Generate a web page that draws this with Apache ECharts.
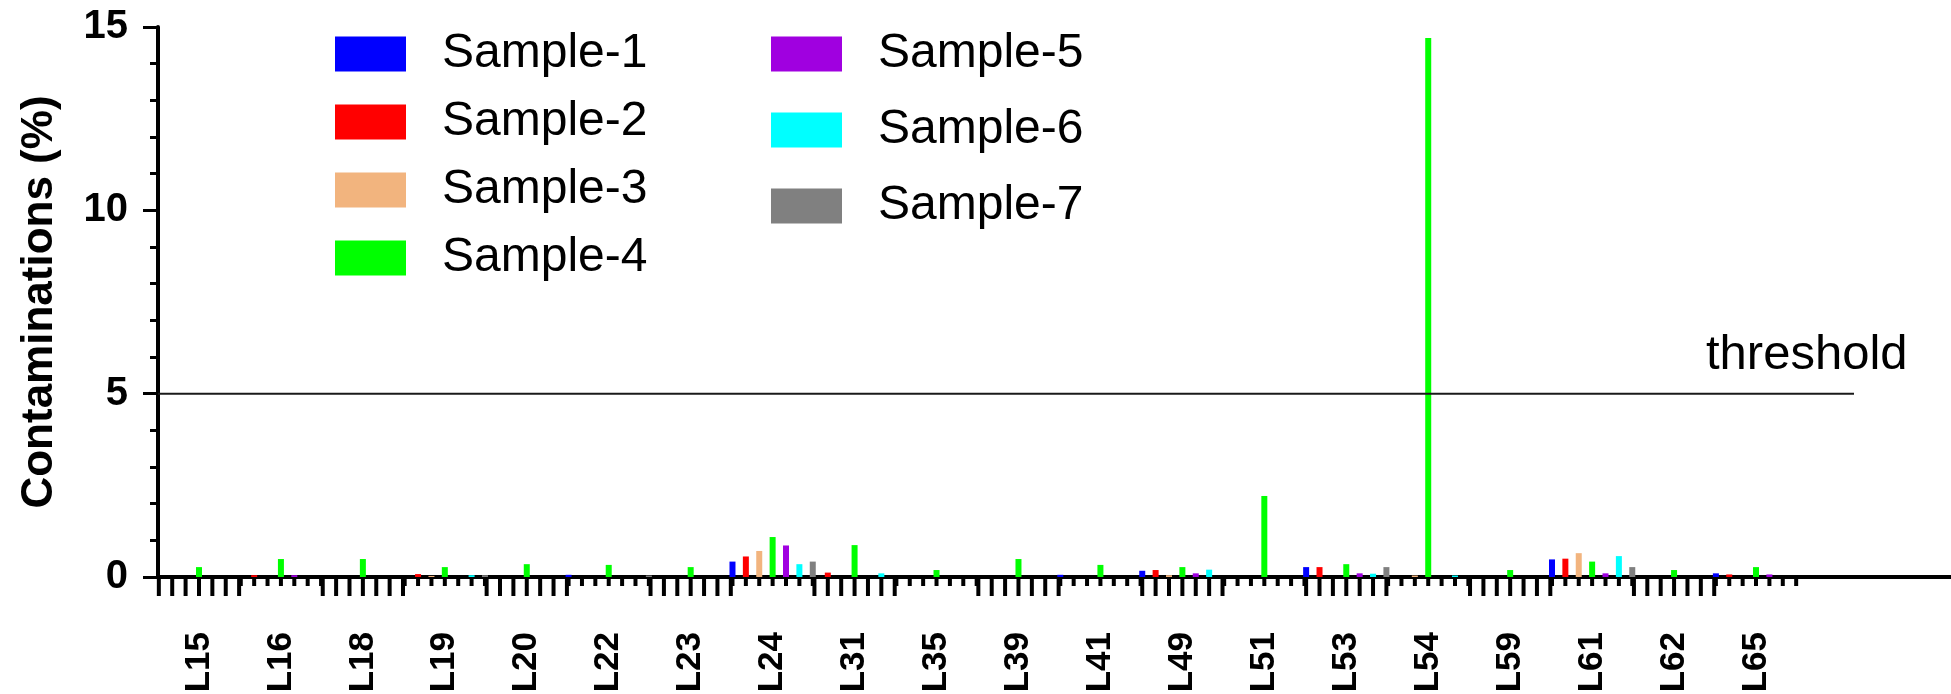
<!DOCTYPE html>
<html>
<head>
<meta charset="utf-8">
<title>Contaminations per locus</title>
<script src="https://cdn.jsdelivr.net/npm/echarts@6/dist/echarts.min.js"></script>
<style>
  html, body { margin: 0; padding: 0; background: #ffffff; }
  #chart { width: 1951px; height: 694px; }
</style>
</head>
<body>
<div id="chart"></div>
<script>
// Loci on the x axis
const categories = ['L15', 'L16', 'L18', 'L19', 'L20', 'L22', 'L23', 'L24', 'L31', 'L35',
                    'L39', 'L41', 'L49', 'L51', 'L53', 'L54', 'L59', 'L61', 'L62', 'L65'];

const sampleNames = ['Sample-1', 'Sample-2', 'Sample-3', 'Sample-4', 'Sample-5', 'Sample-6', 'Sample-7'];

// Contamination (%) per locus, one array per sample
const sample1 = [0, 0, 0, 0, 0, 0.06, 0, 0.42, 0, 0, 0, 0.06, 0.17, 0, 0.27, 0, 0, 0.48, 0, 0.10];
const sample2 = [0, 0.05, 0, 0.08, 0, 0, 0, 0.56, 0.12, 0, 0, 0, 0.19, 0, 0.27, 0, 0, 0.50, 0, 0.07];
const sample3 = [0, 0, 0, 0.03, 0, 0, 0, 0.71, 0, 0, 0, 0, 0.05, 0, 0, 0.04, 0, 0.65, 0, 0];
const sample4 = [0.27, 0.49, 0.49, 0.27, 0.35, 0.33, 0.27, 1.09, 0.87, 0.19,
                 0.49, 0.33, 0.27, 2.21, 0.35, 14.70, 0.19, 0.42, 0.19, 0.27];
const sample5 = [0, 0.05, 0, 0, 0, 0, 0, 0.86, 0, 0, 0, 0, 0.10, 0, 0.10, 0, 0, 0.10, 0, 0.07];
const sample6 = [0, 0, 0, 0.05, 0, 0, 0, 0.35, 0.10, 0, 0, 0, 0.20, 0, 0.09, 0.04, 0, 0.57, 0, 0];
const sample7 = [0, 0, 0, 0.05, 0, 0.04, 0, 0.42, 0, 0, 0, 0, 0, 0, 0.27, 0, 0, 0.27, 0, 0];

const sampleValues = [sample1, sample2, sample3, sample4, sample5, sample6, sample7];
const sampleColors = ['#0000ff', '#ff0000', '#f2b47e', '#00ff00', '#a000e0', '#00ffff', '#808080'];

// y axis tick labels and the threshold level
const yTickLabels = [0, 5, 10, 15];
const thresholdValue = 5;

const FONT = '"Liberation Sans", Arial, Helvetica, sans-serif';
const BAR_W = 6;
const BAR_GAP = 1.23;                     // gap between neighbouring bars, as a share of bar width
const SLOT = BAR_W * (1 + BAR_GAP);       // distance between neighbouring bar centres

const yMin = yTickLabels[0];
const yMax = yTickLabels[yTickLabels.length - 1];
const yStep = yTickLabels[1] - yTickLabels[0];

const barSeries = sampleNames.map(function (name, k) {
  return {
    name: name,
    type: 'bar',
    xAxisIndex: 0,
    yAxisIndex: 0,
    barWidth: BAR_W,
    barGap: (BAR_GAP * 100) + '%',
    itemStyle: { color: sampleColors[k] },
    data: sampleValues[k],
    z: 3
  };
});

// One tick under every bar; loci alternate between long and short ticks
const tickSeries = {
  type: 'custom',
  xAxisIndex: 0,
  yAxisIndex: 0,
  clip: false,
  silent: true,
  z: 2,
  data: categories.map(function (c, i) { return [i, 0]; }),
  renderItem: function (params, api) {
    const idx = api.value(0);
    const base = api.coord([idx, 0]);
    const len = idx % 2 === 0 ? 19 : 9;
    const n = sampleNames.length;
    const children = [];
    for (let k = 0; k < n; k++) {
      const x = base[0] + (k - (n - 1) / 2) * SLOT;
      children.push({
        type: 'line',
        shape: { x1: x, y1: base[1], x2: x, y2: base[1] + len },
        style: { stroke: '#000000', lineWidth: 4 }
      });
    }
    return { type: 'group', children: children };
  }
};

const thresholdSeries = {
  type: 'line',
  xAxisIndex: 2,
  yAxisIndex: 2,
  symbol: 'none',
  silent: true,
  lineStyle: { color: '#1a1a1a', width: 2 },
  data: [[0, thresholdValue], [1, thresholdValue]],
  z: 4
};

const hiddenY = { type: 'value', min: yMin, max: yMax, show: false };

const legendCommon = {
  orient: 'vertical',
  top: 30,
  itemWidth: 71,
  itemHeight: 35,
  icon: 'rect',
  selectedMode: false,
  padding: 0,
  textStyle: { fontSize: 48, lineHeight: 35, color: '#000000', fontFamily: FONT, padding: [0, 0, 0, 31] }
};

const option = {
  backgroundColor: '#ffffff',
  animation: false,
  textStyle: { fontFamily: FONT },
  title: {
    text: 'threshold',
    left: 1706,
    top: 331,
    padding: 0,
    textStyle: { fontSize: 49, fontWeight: 'normal', color: '#000000', fontFamily: FONT }
  },
  legend: [
    Object.assign({}, legendCommon, { left: 335, itemGap: 20, data: sampleNames.slice(0, 4) }),
    Object.assign({}, legendCommon, { left: 771, itemGap: 28, data: sampleNames.slice(4) })
  ],
  grid: [
    { left: 158, right: 154, top: 27, bottom: 117, outerBoundsMode: 'none' },
    { left: 158, right: 0, top: 27, bottom: 117, outerBoundsMode: 'none' },
    { left: 158, right: 97, top: 27, bottom: 117, outerBoundsMode: 'none' }
  ],
  xAxis: [
    {
      gridIndex: 0,
      type: 'category',
      data: categories,
      axisLine: { show: false },
      axisTick: { show: false },
      splitLine: { show: false },
      axisLabel: {
        interval: 0,
        rotate: 90,
        margin: 55,
        fontSize: 35,
        fontWeight: 'bold',
        color: '#000000',
        fontFamily: FONT
      }
    },
    {
      gridIndex: 1,
      type: 'value',
      min: 0,
      max: 1,
      axisLine: { show: true, lineStyle: { color: '#000000', width: 4 } },
      axisTick: { show: false },
      axisLabel: { show: false },
      splitLine: { show: false }
    },
    { gridIndex: 2, type: 'value', min: 0, max: 1, show: false }
  ],
  yAxis: [
    {
      gridIndex: 0,
      type: 'value',
      min: yMin,
      max: yMax,
      interval: yStep,
      name: 'Contaminations (%)',
      nameLocation: 'middle',
      nameRotate: 90,
      nameGap: 96,
      nameTextStyle: { fontSize: 44, fontWeight: 'bold', color: '#000000', fontFamily: FONT },
      axisLine: { show: true, lineStyle: { color: '#000000', width: 4 } },
      axisTick: { show: true, length: 15, lineStyle: { color: '#000000', width: 3 } },
      minorTick: { show: true, splitNumber: 5, length: 8, lineStyle: { color: '#000000', width: 3 } },
      splitLine: { show: false },
      minorSplitLine: { show: false },
      axisLabel: { margin: 30, fontSize: 40, fontWeight: 'bold', color: '#000000', fontFamily: FONT }
    },
    Object.assign({ gridIndex: 1 }, hiddenY),
    Object.assign({ gridIndex: 2 }, hiddenY)
  ],
  series: barSeries.concat([tickSeries, thresholdSeries])
};

const chart = echarts.init(document.getElementById('chart'), null, { renderer: 'canvas' });
chart.setOption(option);
</script>
</body>
</html>
